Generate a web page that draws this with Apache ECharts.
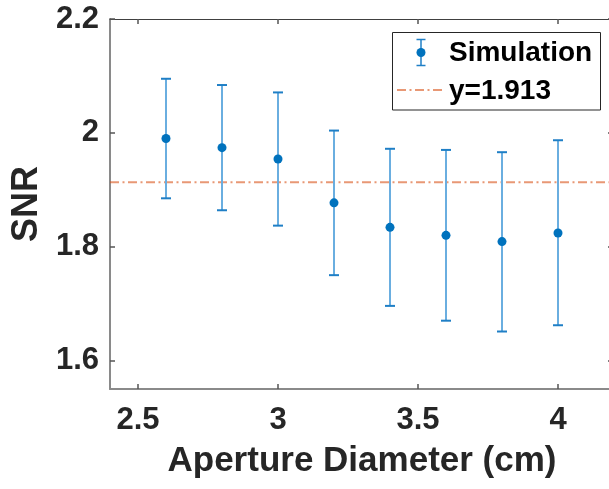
<!DOCTYPE html>
<html>
<head>
<meta charset="utf-8">
<script src="https://cdn.jsdelivr.net/npm/echarts@6/dist/echarts.min.js"></script>
<style>html,body{margin:0;padding:0;background:#fff;}#c{width:609px;height:489px;}</style>
</head>
<body>
<div id="c"></div>
<script>
// ---- data ----
const diameters = [2.6, 2.8, 3.0, 3.2, 3.4, 3.6, 3.8, 4.0];
const snrMean   = [1.990, 1.974, 1.954, 1.877, 1.834, 1.820, 1.809, 1.824];
const snrLower  = [1.885, 1.864, 1.837, 1.750, 1.696, 1.670, 1.651, 1.662];
const snrUpper  = [2.095, 2.084, 2.071, 2.004, 1.972, 1.970, 1.966, 1.987];
const refValue  = 1.913;
const xTicks    = [2.5, 3, 3.5, 4];
const yTicks    = [1.6, 1.8, 2, 2.2];
const xRange    = [2.4, 4.2];
const yRange    = [1.55, 2.2];
const seriesNames = ['Simulation', 'y=' + refValue];
const xTitle = 'Aperture Diameter (cm)';
const yTitle = 'SNR';

const FONT = '"Liberation Sans", Arial, Helvetica, sans-serif';
const TXT = '#262626';
const chart = echarts.init(document.getElementById('c'), null, {renderer: 'canvas'});

const errData = diameters.map((x, i) => [x, snrLower[i], snrUpper[i]]);
const ptData = diameters.map((x, i) => [x, snrMean[i]]);
const refData = [[xRange[0], refValue], [xRange[1], refValue]];

const baseX = {
  type: 'value', min: xRange[0], max: xRange[1],
  splitLine: {show: false}
};
const baseY = {
  type: 'value', min: yRange[0], max: yRange[1],
  splitLine: {show: false}
};

const option = {
  animation: false,
  backgroundColor: '#fff',
  grid: {left: 110, top: 19, width: 504, height: 370, outerBoundsMode: 'none', containLabel: false},
  xAxis: [
    Object.assign({}, baseX, {
      position: 'bottom',
      name: xTitle, nameLocation: 'middle', nameGap: 55,
      nameTextStyle: {fontFamily: FONT, fontWeight: 'bold', fontSize: 35, color: TXT},
      axisLine: {show: true, onZero: false, lineStyle: {color: '#8a8a8a', width: 2}},
      axisTick: {show: true, inside: true, length: 5, customValues: xTicks, lineStyle: {color: '#555', width: 1.5}},
      axisLabel: {show: true, customValues: xTicks, margin: 16, fontFamily: FONT, fontWeight: 'bold', fontSize: 31, color: TXT}
    }),
    Object.assign({}, baseX, {
      position: 'top',
      axisLine: {show: true, onZero: false, lineStyle: {color: '#404040', width: 1}},
      axisTick: {show: true, inside: true, length: 5, customValues: xTicks, lineStyle: {color: '#555', width: 1.5}},
      axisLabel: {show: false}
    })
  ],
  yAxis: [
    Object.assign({}, baseY, {
      position: 'left',
      name: yTitle, nameLocation: 'middle', nameGap: 64, nameRotate: 90,
      nameTextStyle: {fontFamily: FONT, fontWeight: 'bold', fontSize: 36, color: TXT},
      axisLine: {show: true, onZero: false, lineStyle: {color: '#8a8a8a', width: 2}},
      axisTick: {show: true, inside: true, length: 5, customValues: yTicks, lineStyle: {color: '#555', width: 1.5}},
      axisLabel: {show: true, customValues: yTicks, margin: 11, fontFamily: FONT, fontWeight: 'bold', fontSize: 31, color: TXT}
    }),
    Object.assign({}, baseY, {
      position: 'right',
      axisLine: {show: true, onZero: false, lineStyle: {color: '#404040', width: 1}},
      axisTick: {show: true, inside: true, length: 6, customValues: yTicks, lineStyle: {color: '#555', width: 1.5}},
      axisLabel: {show: false}
    })
  ],
  series: [
    {
      name: seriesNames[1],
      type: 'line',
      data: refData,
      symbol: 'none',
      lineStyle: {color: 'rgba(217,83,25,0.6)', width: 2, type: [9, 3.5, 2, 3.5]},
      z: 2
    },
    {
      name: seriesNames[0] + ' error',
      type: 'custom',
      data: errData,
      encode: {x: 0, y: [1, 2]},
      renderItem: function (params, api) {
        const x = api.value(0), lo = api.value(1), hi = api.value(2);
        const pLo = api.coord([x, lo]);
        const pHi = api.coord([x, hi]);
        const hw = 5;
        return {
          type: 'group',
          children: [
            {type: 'line', shape: {x1: pLo[0], y1: pLo[1], x2: pHi[0], y2: pHi[1]},
              style: {stroke: '#6aaee0', lineWidth: 2}},
            {type: 'line', shape: {x1: pHi[0] - hw, y1: pHi[1], x2: pHi[0] + hw, y2: pHi[1]},
              style: {stroke: '#1f7fc6', lineWidth: 2}},
            {type: 'line', shape: {x1: pLo[0] - hw, y1: pLo[1], x2: pLo[0] + hw, y2: pLo[1]},
              style: {stroke: '#1f7fc6', lineWidth: 2}}
          ]
        };
      },
      z: 3
    },
    {
      name: seriesNames[0],
      type: 'scatter',
      data: ptData,
      symbol: 'circle',
      symbolSize: 9,
      itemStyle: {color: '#0072BD', opacity: 1},
      z: 4
    }
  ],
  graphic: [
    {type: 'rect', shape: {x: 392.5, y: 32.5, width: 208, height: 77.5},
      style: {fill: '#fff', stroke: '#262626', lineWidth: 1}, z: 10},
    {type: 'line', shape: {x1: 421, y1: 39.5, x2: 421, y2: 65.5}, style: {stroke: '#1f7fc6', lineWidth: 1.5}, z: 11},
    {type: 'line', shape: {x1: 416.5, y1: 39.5, x2: 425.5, y2: 39.5}, style: {stroke: '#1f7fc6', lineWidth: 1.5}, z: 11},
    {type: 'line', shape: {x1: 416.5, y1: 65.5, x2: 425.5, y2: 65.5}, style: {stroke: '#1f7fc6', lineWidth: 1.5}, z: 11},
    {type: 'circle', shape: {cx: 421, cy: 52.5, r: 4.5}, style: {fill: '#0072BD'}, z: 11},
    {type: 'text', x: 449, y: 53, style: {text: seriesNames[0], font: 'bold 28px ' + FONT, fill: '#000', textVerticalAlign: 'middle', verticalAlign: 'middle'}, z: 11},
    {type: 'line', shape: {x1: 397, y1: 90, x2: 444, y2: 90},
      style: {stroke: 'rgba(217,83,25,0.6)', lineWidth: 2, lineDash: [9, 3.5, 2, 3.5]}, z: 11},
    {type: 'text', x: 449, y: 91, style: {text: seriesNames[1], font: 'bold 28px ' + FONT, fill: '#000', textVerticalAlign: 'middle', verticalAlign: 'middle'}, z: 11}
  ]
};
chart.setOption(option);
</script>
</body>
</html>
